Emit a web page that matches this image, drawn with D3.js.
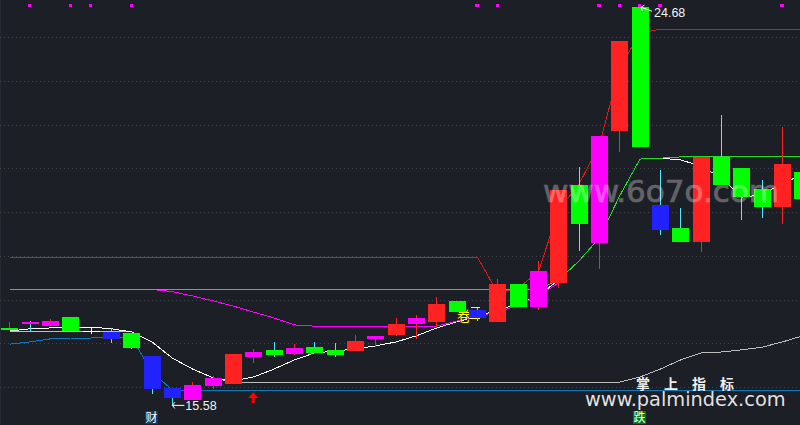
<!DOCTYPE html>
<html><head><meta charset="utf-8">
<script src="https://cdn.jsdelivr.net/npm/d3@7"></script>
<style>html,body{margin:0;padding:0;background:#1c1f26;overflow:hidden}svg{display:block}</style>
</head><body><div id="chart"></div>
<script>
const kinds =    ["G","M","M","G","W","B","G","B","B","M","M","R","M","G","M","G","G","R","M","R","M","R","G","B","R","G","M","R","G","M","R","G","B","G","R","G","G","G","R","G"];
const wickKinds =["R","C","R","C","W","C","C","C","C","R","R","R","R","C","R","C","C","R","R","R","R","R","C","C","R","C","R","R","C","R","R","C","C","C","R","C","C","C","R","C"];
const bodyHigh = [17.35,17.49,17.51,17.60,17.28,17.26,17.23,16.71,15.98,16.05,16.21,16.75,16.80,16.85,16.89,16.91,16.85,17.05,17.17,17.44,17.58,17.90,17.97,17.76,18.35,18.35,18.65,20.50,20.62,21.74,23.91,24.68,20.16,19.63,21.26,21.26,21.01,20.53,21.10,20.91];
const bodyLow =  [17.30,17.44,17.39,17.28,17.27,17.10,16.89,15.95,15.75,15.70,16.02,16.07,16.69,16.73,16.75,16.78,16.73,16.82,17.10,17.19,17.44,17.49,17.71,17.58,17.49,17.83,17.83,18.38,19.73,19.29,21.85,21.49,19.59,19.31,19.31,20.62,20.34,20.11,20.11,20.30];
const highs =    [17.49,17.51,17.56,17.60,17.37,17.35,17.23,16.71,15.98,16.11,16.25,16.75,16.87,17.03,16.98,17.03,17.01,17.19,17.17,17.58,17.65,18.06,17.97,17.81,18.47,18.35,18.88,20.50,21.03,21.74,23.91,24.68,20.96,20.09,21.26,22.22,21.01,20.73,21.94,20.91];
const lows =     [17.30,17.28,17.39,17.28,17.21,17.01,16.87,15.84,15.58,15.70,15.95,16.07,16.55,16.69,16.73,16.78,16.69,16.82,16.91,17.17,17.10,17.35,17.71,17.51,17.49,17.83,17.76,18.26,19.11,18.70,21.37,21.49,19.47,19.31,19.09,20.62,19.82,19.86,19.73,20.30];

const redLine =   [18.97,18.97,18.97,18.97,18.97,18.97,18.97,18.97,18.97,18.97,18.97,18.97,18.97,18.97,18.97,18.97,18.97,18.97,18.97,18.97,18.97,18.97,18.97,18.97,18.15,18.26,18.63,20.05,20.64,21.53,23.29,24.09,24.18,24.18,24.18,24.18,24.18,24.18,24.18,24.18];
const greenLine = [18.23,18.23,18.23,18.23,18.23,18.23,18.23,18.23,18.23,18.23,18.23,18.23,18.23,18.23,18.23,18.23,18.23,18.23,18.23,18.23,18.23,18.23,18.23,18.23,18.23,18.23,18.23,18.45,18.88,19.41,20.37,21.21,21.23,21.26,21.26,21.26,21.26,21.26,21.26,21.26];
const magentaLine=[null,null,null,null,null,null,null,18.23,18.18,18.08,17.97,17.85,17.71,17.58,17.42,17.39,17.39,17.39,17.39,17.39,17.39,17.39,17.51,17.62,17.71,17.87,18.08,18.38,null,null,null,null,null,null,null,null,null,null,null,null];
const whiteLine = [17.28,17.33,17.35,17.37,17.37,17.33,17.26,17.03,16.66,16.41,16.21,16.14,16.23,16.41,16.62,16.78,16.82,16.87,16.94,17.03,17.17,17.35,17.49,17.62,17.76,17.90,18.08,18.45,18.88,19.41,20.37,21.21,21.23,21.19,21.05,20.78,20.34,20.39,20.66,20.85];
const greyLine =  [17.26,17.26,17.26,17.26,17.26,17.26,17.26,17.03,16.66,16.41,16.21,16.11,16.11,16.11,16.11,16.11,16.11,16.11,16.11,16.11,16.11,16.11,16.11,16.11,16.11,16.11,16.11,16.11,16.11,16.11,16.11,16.23,16.41,16.62,16.78,16.80,16.85,16.91,17.03,17.17];
const blueLine =  [16.98,17.03,17.10,17.12,17.12,17.14,17.12,16.34,15.93,15.91,15.91,15.91,15.91,15.91,15.91,15.91,15.91,15.91,15.91,15.91,15.91,15.91,15.91,15.91,15.91,15.91,15.91,15.91,15.91,15.91,15.91,15.91,15.91,15.91,15.91,15.91,15.91,15.91,15.91,15.91];

const gridTicks = [16,17,18,19,20,21,22,23,24];
const topMarks = [1,3,4,6,23,24,29,30,31,32,38];
const maxLabel = "24.68", minLabel = "15.58";
const maxIndex = 31, minIndex = 8;

const W = 800, H = 425;
const colors = {R:"#ff2222",G:"#00ff00",M:"#ff00ff",B:"#2222ff",W:"#ffffff",C:"#55e6ff"};
const x = d3.scaleLinear().domain([0,39]).range([9.7,802.7]);
const y = d3.scaleLinear().domain([16,24]).range([387,37]);
const svg = d3.select("#chart").append("svg").attr("width",W).attr("height",H);
svg.append("rect").attr("width",W).attr("height",H).attr("fill","#1c1f26");
svg.append("line").attr("x1",0.5).attr("x2",0.5).attr("y1",0).attr("y2",H).attr("stroke","#262931");

const grid = svg.append("g").attr("transform","translate(0,0)")
  .call(d3.axisLeft(y).tickValues(gridTicks).tickSize(-W).tickFormat(""));
grid.select(".domain").remove();
grid.selectAll("line").attr("stroke","#42454c").attr("stroke-dasharray","1,3").attr("shape-rendering","crispEdges");

const line = d3.line().defined(d=>d!==null).x((d,i)=>x(i)).y(d=>y(d));
[[blueLine,"#0c7ab8"],[greyLine,"#bdbdbd"],[whiteLine,"#ffffff"],[magentaLine,"#ff00ff"],[redLine,"#e01818"],[greenLine,"#22dd22"]]
 .forEach(([v,c])=>svg.append("path").attr("d",line(v)).attr("fill","none").attr("stroke",c).attr("stroke-width",1).attr("shape-rendering","crispEdges"));

// yellow signal glyph sits under the candles
svg.append("text").attr("x",x(22)+7).attr("y",y(17.49)-1).attr("text-anchor","middle")
  .attr("font-family","'Noto Sans CJK SC'").attr("font-size",14).attr("fill","#ffff00").text("卷");
[17.81,17.56].forEach(v=>svg.append("line").attr("x1",x(23)-6).attr("x2",x(23)+3).attr("y1",y(v)).attr("y2",y(v))
  .attr("stroke","#ffff00").attr("shape-rendering","crispEdges"));

const idx = d3.range(kinds.length);
svg.append("g").selectAll("line").data(idx).join("line")
  .attr("x1",i=>x(i)).attr("x2",i=>x(i)).attr("y1",i=>y(highs[i])).attr("y2",i=>y(lows[i]))
  .attr("stroke",i=>colors[wickKinds[i]]).attr("shape-rendering","crispEdges");
svg.append("g").selectAll("rect").data(idx).join("rect")
  .attr("x",i=>x(i)-8.5).attr("width",17)
  .attr("y",i=>y(bodyHigh[i])).attr("height",i=>Math.max(1,y(bodyLow[i])-y(bodyHigh[i])))
  .attr("fill",i=>colors[kinds[i]]).attr("shape-rendering","crispEdges");

svg.append("g").selectAll("rect").data(topMarks).join("rect")
  .attr("x",i=>x(i)-2.2).attr("y",3.5).attr("width",3.5).attr("height",3.5).attr("fill","#ff00ff").attr("shape-rendering","crispEdges");

// extreme labels
const labelFont = "'Liberation Sans'";
function arrow(x0,y0,x1,y1){
  const a=Math.atan2(y0-y1,x0-x1), p=d3.path();
  p.moveTo(x1,y1);p.lineTo(x0,y0);
  p.moveTo(x0+4*Math.cos(a-0.9)*-1,y0+4*Math.sin(a-0.9)*-1);p.lineTo(x0,y0);
  p.lineTo(x0+4*Math.cos(a+0.9)*-1,y0+4*Math.sin(a+0.9)*-1);
  svg.append("path").attr("d",p.toString()).attr("fill","none").attr("stroke","#fff");
}
arrow(x(maxIndex)+1,y(24.68),x(maxIndex)+12,y(24.68)+4);
arrow(x(minIndex),y(15.58),x(minIndex)+12,y(15.58));
svg.append("text").attr("x",x(maxIndex)+14).attr("y",y(24.68)+10).attr("font-family",labelFont).attr("font-size",12.5).attr("fill","#f4f4f4").text(maxLabel);
svg.append("text").attr("x",x(minIndex)+13).attr("y",y(15.58)+4.5).attr("font-family",labelFont).attr("font-size",12.5).attr("fill","#f4f4f4").text(minLabel);

// red up arrow
const ua = d3.path(), ax=x(12)-0.5;
ua.moveTo(ax,392);ua.lineTo(ax+5,398);ua.lineTo(ax+1.5,398);ua.lineTo(ax+1.5,403);ua.lineTo(ax-1.5,403);ua.lineTo(ax-1.5,398);ua.lineTo(ax-5,398);ua.closePath();
svg.append("path").attr("d",ua.toString()).attr("fill","#ff0000");

// signal characters
[[7,"财","#0a3a66"],[31,"跌","#007a00"]].forEach(([i,t,bg])=>{
  svg.append("rect").attr("x",x(i)-7).attr("y",411).attr("width",13).attr("height",13).attr("fill",bg);
  svg.append("text").attr("x",x(i)-0.5).attr("y",422).attr("text-anchor","middle").attr("font-family","'Noto Sans CJK SC'").attr("font-size",12).attr("fill","#fff").text(t);
});

// watermarks
svg.append("text").attr("x",543).attr("y",202).attr("font-family","'DejaVu Sans'").attr("font-size",31).attr("fill","#fff").attr("stroke","#fff").attr("stroke-width",0.7).attr("opacity",0.3).text("www.6o7o.com");
svg.append("text").attr("x",636).attr("y",389).attr("font-family","'Noto Sans CJK SC'").attr("font-weight",700).attr("font-size",14).attr("letter-spacing",14).attr("fill","#f0f0f0").text("掌上指标");
svg.append("text").attr("x",585).attr("y",405.5).attr("font-family","'DejaVu Sans'").attr("font-size",19.35).attr("fill","rgba(255,255,255,0.88)").text("www.palmindex.com");
</script></body></html>
